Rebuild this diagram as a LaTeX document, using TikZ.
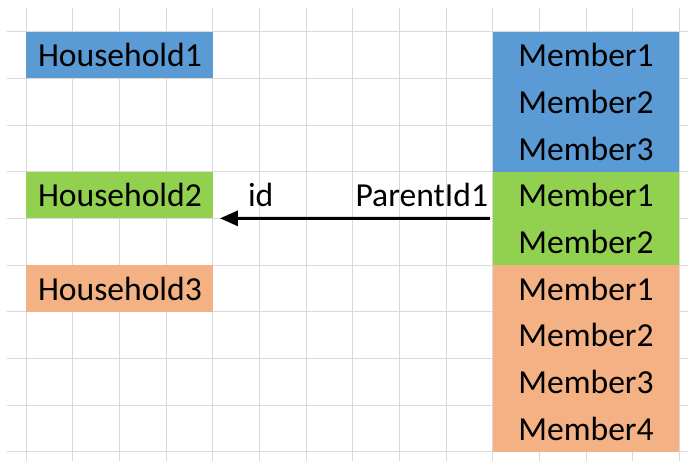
\documentclass[tikz,border=0pt]{standalone}
\usepackage{fontspec}
\setmainfont{Carlito}
\usetikzlibrary{arrows.meta}
\definecolor{xblue}{HTML}{5B9BD5}
\definecolor{xgreen}{HTML}{92D050}
\definecolor{xorange}{HTML}{F4B183}
\definecolor{xgrid}{HTML}{D9D9D9}
\begin{document}
\begin{tikzpicture}[x=1pt,y=-1pt,
  gridline/.style={draw=xgrid,line width=1pt},
  cellbox/.style={draw=none,inner sep=0pt,outer sep=0pt,anchor=north west,minimum width=186.667pt},
  txt/.style={inner sep=0pt,outer sep=0pt,font=\fontsize{33.6}{40}\selectfont,text=black},
  link/.style={draw=black,line width=3pt,-{Triangle[length=18pt,width=15pt]}}]
\useasboundingbox (0,0) rectangle (688,461);
\fill[white] (0,0) rectangle (688,461);
% grid
\foreach \i in {0,...,14}{\draw[gridline] ({26+46.667*\i},8) -- ({26+46.667*\i},461);}
\foreach \j in {0,...,9}{\draw[gridline] (7,{31.667+46.667*\j}) -- (688,{31.667+46.667*\j});}
% household cells
\node[cellbox,fill=xblue,minimum height=46.667pt] (h1) at (26,31.667) {};
\node[cellbox,fill=xgreen,minimum height=46.667pt] (h2) at (26,171.667) {};
\node[cellbox,fill=xorange,minimum height=46.667pt] (h3) at (26,265) {};
% member blocks
\node[cellbox,fill=xblue,minimum height=140pt] (mb) at (492.667,31.667) {};
\node[cellbox,fill=xgreen,minimum height=93.333pt] (mg) at (492.667,171.667) {};
\node[cellbox,fill=xorange,minimum height=186.667pt] (mo) at (492.667,265) {};
% household texts
\node[txt,anchor=base west] (t1) at (38,66.667) {Household1};
\node[txt,anchor=base west] (t2) at (38,206.667) {Household2};
\node[txt,anchor=base west] (t3) at (38,300) {Household3};
% member texts
\node[txt,anchor=base] (b1) at (586,66.667) {Member1};
\node[txt,anchor=base] (b2) at (586,113.333) {Member2};
\node[txt,anchor=base] (b3) at (586,160) {Member3};
\node[txt,anchor=base] (g1) at (586,206.667) {Member1};
\node[txt,anchor=base] (g2) at (586,253.333) {Member2};
\node[txt,anchor=base] (o1) at (586,300) {Member1};
\node[txt,anchor=base] (o2) at (586,346.667) {Member2};
\node[txt,anchor=base] (o3) at (586,393.333) {Member3};
\node[txt,anchor=base] (o4) at (586,440) {Member4};
% labels
\node[txt,anchor=base west] (lid) at (248,206.667) {id};
\node[txt,anchor=base east] (lpid) at (488,206.667) {ParentId1};
% arrow
\coordinate (as) at ([xshift=-2.7pt]mg.west);
\coordinate (ae) at ([xshift=7.3pt]h2.south east);
\draw[link] (as) -- (ae);
\end{tikzpicture}
\end{document}
